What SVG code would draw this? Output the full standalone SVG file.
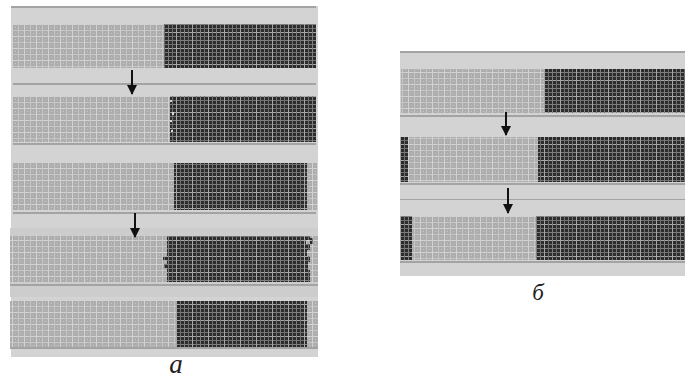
<svg xmlns="http://www.w3.org/2000/svg" width="685" height="378" viewBox="0 0 685 378">
<style>
.bg{fill:#d3d3d3}
.ln{fill:#a3a3a3}
.lt{fill:url(#pl)}
.dk{fill:url(#pd)}
.lbl{font-family:"Liberation Serif","DejaVu Serif",serif;font-style:italic;fill:#222}
.arr{stroke:#111;stroke-width:2;fill:none}
.spk{fill:#d8d8d8}
</style>
<defs>
<pattern id="pl" width="12" height="12" patternUnits="userSpaceOnUse">
<rect width="12" height="12" fill="#adadad"/>
<rect x="0" y="0" width="12" height="1" fill="#d2d2d2"/>
<rect x="0" y="6" width="12" height="1" fill="#c6c6c6"/>
<rect x="0" y="0" width="1" height="12" fill="#d2d2d2"/>
<rect x="6" y="0" width="1" height="12" fill="#c6c6c6"/>
<rect x="3" y="3" width="1" height="1" fill="#cacaca"/>
<rect x="9" y="9" width="1" height="1" fill="#cacaca"/>
<rect x="3" y="9" width="1" height="1" fill="#bdbdbd"/>
<rect x="9" y="3" width="1" height="1" fill="#bdbdbd"/>
</pattern>
<pattern id="pd" width="16" height="16" patternUnits="userSpaceOnUse">
<rect width="16" height="16" fill="#2c2c2c"/>
<rect x="0" y="0" width="16" height="1" fill="#a8a8a8"/>
<rect x="0" y="4" width="16" height="1" fill="#707070"/>
<rect x="0" y="8" width="16" height="1" fill="#808080"/>
<rect x="0" y="12" width="16" height="1" fill="#707070"/>
<rect x="0" y="0" width="1" height="16" fill="#a8a8a8"/>
<rect x="4" y="0" width="1" height="16" fill="#707070"/>
<rect x="8" y="0" width="1" height="16" fill="#808080"/>
<rect x="12" y="0" width="1" height="16" fill="#707070"/>
</pattern>
<marker id="ah" viewBox="0 0 10 10" refX="9" refY="5" markerWidth="5" markerHeight="5" orient="auto">
<path d="M0,0 L10,5 L0,10 z" fill="#111"/>
</marker>
</defs>
<rect width="685" height="378" fill="#fff"/>

<g id="panel-a">
<rect class="bg" x="11" y="6" width="307" height="351"/>
<rect class="ln" x="11" y="6" width="305" height="2"/>
<g id="a-strip1">
<rect class="lt" x="13" y="24" width="151" height="44"/>
<rect class="dk" x="164" y="24" width="152" height="44"/>
</g>
<rect class="ln" x="13" y="83" width="303" height="2"/>
<g id="a-strip2">
<rect class="lt" x="13" y="96" width="157" height="46"/>
<rect class="dk" x="170" y="96" width="146" height="46"/>
<rect class="spk" x="170" y="100" width="2" height="2"/>
<rect class="spk" x="172" y="112" width="2" height="3"/>
<rect class="spk" x="170" y="120" width="2" height="2"/>
<rect class="spk" x="171" y="130" width="2" height="2"/>
</g>
<rect class="ln" x="13" y="143" width="303" height="2"/>
<g id="a-strip3">
<rect class="lt" x="13" y="163" width="161" height="47"/>
<rect class="dk" x="174" y="163" width="133" height="47"/>
<rect class="lt" x="307" y="163" width="10" height="47"/>
</g>
<rect class="ln" x="13" y="212" width="303" height="2"/>
<rect fill="#cdcdcd" x="10" y="228" width="308" height="69"/>
<g id="a-strip4">
<rect class="lt" x="10" y="236" width="157" height="46"/>
<rect class="dk" x="167" y="236" width="143" height="46"/>
<rect class="lt" x="310" y="236" width="8" height="46"/>
<rect class="dk" x="163" y="257" width="4" height="3"/>
<rect class="dk" x="164" y="264" width="3" height="4"/>
<rect class="lt" x="306" y="240" width="4" height="4"/>
<rect class="lt" x="307" y="250" width="3" height="6"/>
<rect class="lt" x="308" y="262" width="2" height="8"/>
<rect class="dk" x="310" y="238" width="3" height="6"/>
</g>
<rect class="ln" x="10" y="284" width="308" height="2"/>
<g id="a-strip5">
<rect class="lt" x="10" y="301" width="166" height="46"/>
<rect class="dk" x="176" y="301" width="131" height="46"/>
<rect class="lt" x="307" y="301" width="11" height="46"/>
</g>
<rect class="ln" x="10" y="347" width="308" height="2"/>
<text class="lbl" x="176" y="373" font-size="27" text-anchor="middle">a</text>
</g>

<g id="panel-b">
<rect class="bg" x="400" y="51" width="285" height="225"/>
<rect class="ln" x="400" y="51" width="285" height="2"/>
<g id="b-strip1">
<rect class="lt" x="401" y="69" width="143" height="44"/>
<rect class="dk" x="544" y="69" width="141" height="44"/>
</g>
<rect class="ln" x="400" y="115" width="285" height="2"/>
<g id="b-strip2">
<rect class="dk" x="400" y="137" width="8" height="45"/>
<rect class="lt" x="408" y="137" width="130" height="45"/>
<rect class="dk" x="538" y="137" width="147" height="45"/>
</g>
<rect class="ln" x="400" y="183" width="285" height="2"/>
<rect class="ln" x="400" y="199" width="285" height="1"/>
<g id="b-strip3">
<rect class="dk" x="400" y="216" width="12" height="44"/>
<rect class="lt" x="412" y="216" width="124" height="44"/>
<rect class="dk" x="536" y="216" width="149" height="44"/>
</g>
<rect class="ln" x="400" y="261" width="285" height="2"/>
<text class="lbl" x="538" y="300" font-size="23" text-anchor="middle">б</text>
</g>

<g id="connectors">
<line class="arr" x1="132" y1="70" x2="132" y2="94" marker-end="url(#ah)"/>
<line class="arr" x1="135" y1="213" x2="135" y2="237" marker-end="url(#ah)"/>
<line class="arr" x1="506" y1="112" x2="506" y2="135" marker-end="url(#ah)"/>
<line class="arr" x1="508" y1="188" x2="508" y2="213" marker-end="url(#ah)"/>
</g>
</svg>
